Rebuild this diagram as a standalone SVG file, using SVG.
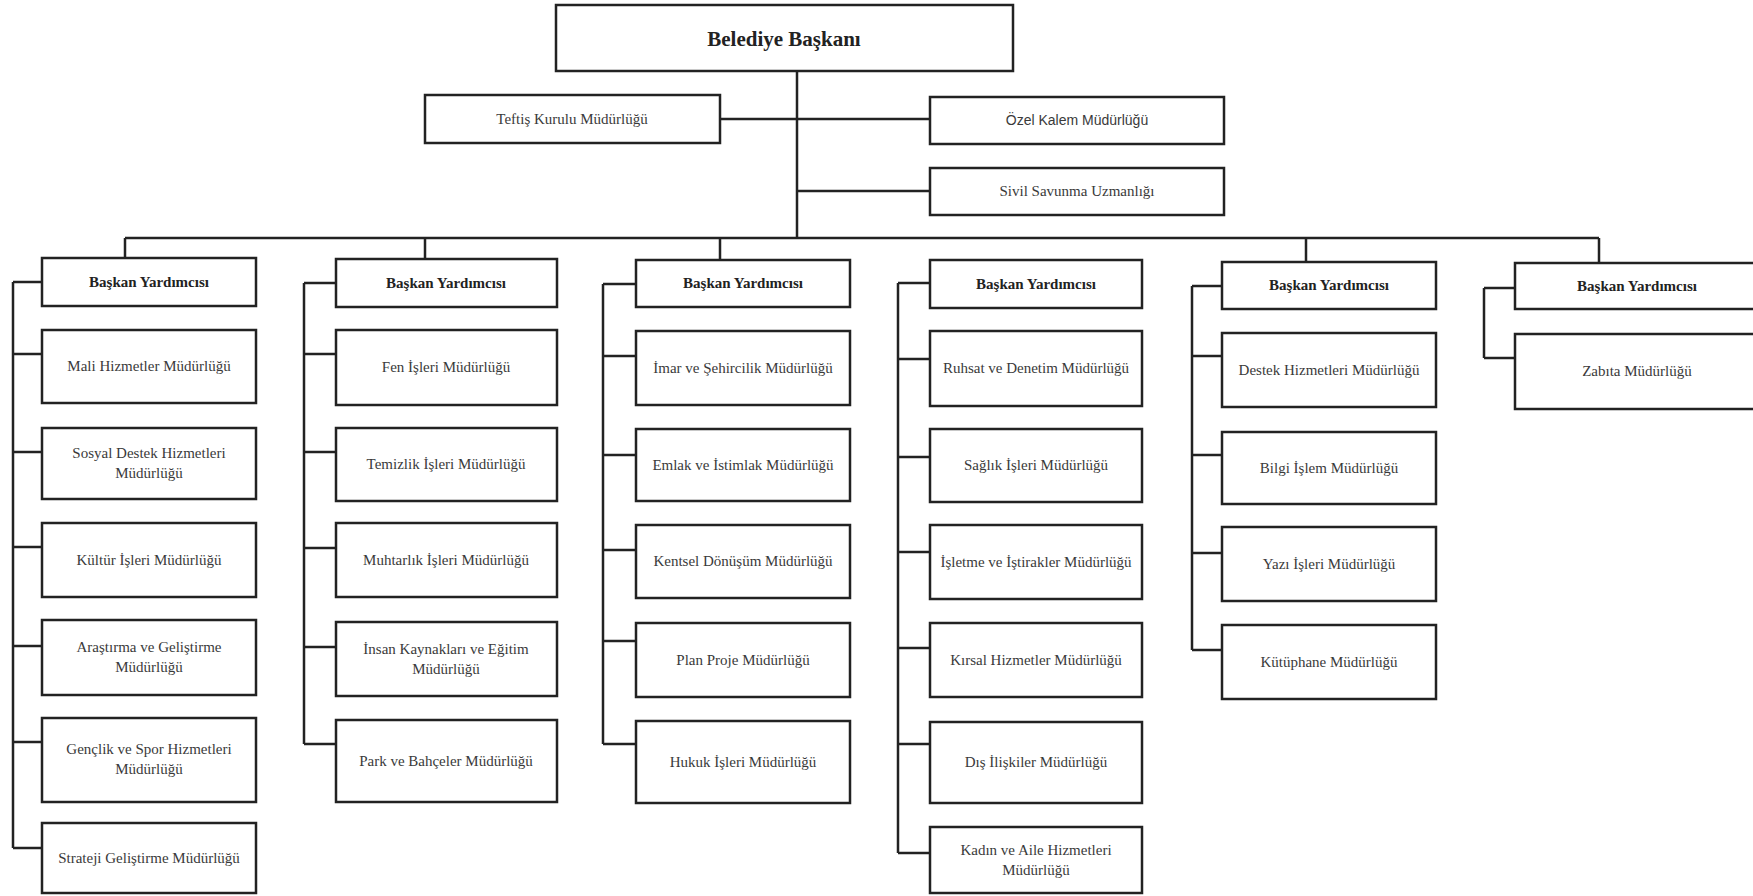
<svg xmlns="http://www.w3.org/2000/svg" width="1753" height="896" viewBox="0 0 1753 896">
<style>
.box{fill:#fff;stroke:#222;stroke-width:2.5}
.t{font-family:"Liberation Serif","Times New Roman",serif;font-size:15px;fill:#3a3a3a;text-anchor:middle;dominant-baseline:central}
.s{font-family:"Liberation Sans",Arial,sans-serif;font-size:14px}
.b{font-weight:bold;fill:#222}
.h{font-size:21px}
.c{fill:none;stroke:#222;stroke-width:2.5}
</style>
<rect width="1753" height="896" fill="#fff"/>
<g id="connectors" class="c">
<path d="M797 71V238M720 119H930M797 191H930M125 238H1599M125 238V258M425 238V259M720 238V260M1306 238V262M1599 238V263"/>
<path d="M13 282V848M13 282H42M13 354H42M13 452H42M13 547H42M13 646H42M13 742H42M13 848H42"/>
<path d="M304 283V744M304 283H336M304 354H336M304 452H336M304 548H336M304 647H336M304 744H336"/>
<path d="M603 284V744M603 284H636M603 356H636M603 455H636M603 550H636M603 641H636M603 744H636"/>
<path d="M898 283V853M898 283H930M898 359H930M898 457H930M898 552H930M898 648H930M898 744H930M898 853H930"/>
<path d="M1192 286V650M1192 286H1222M1192 356H1222M1192 455H1222M1192 553H1222M1192 650H1222"/>
<path d="M1484 288V358M1484 288H1515M1484 358H1515"/>
</g>
<g id="baskan"><rect class="box" x="556" y="5" width="457" height="66"/><text class="t b h" x="784" y="39">Belediye Başkanı</text></g>
<g id="teftis"><rect class="box" x="425" y="95" width="295" height="48"/><text class="t" x="572" y="119">Teftiş Kurulu Müdürlüğü</text></g>
<g id="ozel"><rect class="box" x="930" y="97" width="294" height="47"/><text class="t s" x="1077" y="120">Özel Kalem Müdürlüğü</text></g>
<g id="sivil"><rect class="box" x="930" y="168" width="294" height="47"/><text class="t" x="1077" y="191">Sivil Savunma Uzmanlığı</text></g>

<g id="by1"><rect class="box" x="42" y="258" width="214" height="48"/><text class="t b" x="149" y="282">Başkan Yardımcısı</text></g>
<g id="mali"><rect class="box" x="42" y="330" width="214" height="73"/><text class="t" x="149" y="366">Mali Hizmetler Müdürlüğü</text></g>
<g id="sosyal"><rect class="box" x="42" y="428" width="214" height="71"/><text class="t" x="149" y="453">Sosyal Destek Hizmetleri</text><text class="t" x="149" y="473">Müdürlüğü</text></g>
<g id="kultur"><rect class="box" x="42" y="523" width="214" height="74"/><text class="t" x="149" y="560">Kültür İşleri Müdürlüğü</text></g>
<g id="arastirma"><rect class="box" x="42" y="620" width="214" height="75"/><text class="t" x="149" y="647">Araştırma ve Geliştirme</text><text class="t" x="149" y="667">Müdürlüğü</text></g>
<g id="genclik"><rect class="box" x="42" y="718" width="214" height="84"/><text class="t" x="149" y="749">Gençlik ve Spor Hizmetleri</text><text class="t" x="149" y="769">Müdürlüğü</text></g>
<g id="strateji"><rect class="box" x="42" y="823" width="214" height="70"/><text class="t" x="149" y="858">Strateji Geliştirme Müdürlüğü</text></g>

<g id="by2"><rect class="box" x="336" y="259" width="221" height="48"/><text class="t b" x="446" y="283">Başkan Yardımcısı</text></g>
<g id="fen"><rect class="box" x="336" y="330" width="221" height="75"/><text class="t" x="446" y="367">Fen İşleri Müdürlüğü</text></g>
<g id="temizlik"><rect class="box" x="336" y="428" width="221" height="73"/><text class="t" x="446" y="464">Temizlik İşleri Müdürlüğü</text></g>
<g id="muhtarlik"><rect class="box" x="336" y="523" width="221" height="74"/><text class="t" x="446" y="560">Muhtarlık İşleri Müdürlüğü</text></g>
<g id="insan"><rect class="box" x="336" y="622" width="221" height="74"/><text class="t" x="446" y="649">İnsan Kaynakları ve Eğitim</text><text class="t" x="446" y="669">Müdürlüğü</text></g>
<g id="park"><rect class="box" x="336" y="720" width="221" height="82"/><text class="t" x="446" y="761">Park ve Bahçeler Müdürlüğü</text></g>

<g id="by3"><rect class="box" x="636" y="260" width="214" height="47"/><text class="t b" x="743" y="283">Başkan Yardımcısı</text></g>
<g id="imar"><rect class="box" x="636" y="331" width="214" height="74"/><text class="t" x="743" y="368">İmar ve Şehircilik Müdürlüğü</text></g>
<g id="emlak"><rect class="box" x="636" y="429" width="214" height="72"/><text class="t" x="743" y="465">Emlak ve İstimlak Müdürlüğü</text></g>
<g id="kentsel"><rect class="box" x="636" y="525" width="214" height="73"/><text class="t" x="743" y="561">Kentsel Dönüşüm Müdürlüğü</text></g>
<g id="plan"><rect class="box" x="636" y="623" width="214" height="74"/><text class="t" x="743" y="660">Plan Proje Müdürlüğü</text></g>
<g id="hukuk"><rect class="box" x="636" y="721" width="214" height="82"/><text class="t" x="743" y="762">Hukuk İşleri Müdürlüğü</text></g>

<g id="by4"><rect class="box" x="930" y="260" width="212" height="48"/><text class="t b" x="1036" y="284">Başkan Yardımcısı</text></g>
<g id="ruhsat"><rect class="box" x="930" y="331" width="212" height="75"/><text class="t" x="1036" y="368">Ruhsat ve Denetim Müdürlüğü</text></g>
<g id="saglik"><rect class="box" x="930" y="429" width="212" height="73"/><text class="t" x="1036" y="465">Sağlık İşleri Müdürlüğü</text></g>
<g id="isletme"><rect class="box" x="930" y="525" width="212" height="74"/><text class="t" x="1036" y="562">İşletme ve İştirakler Müdürlüğü</text></g>
<g id="kirsal"><rect class="box" x="930" y="623" width="212" height="74"/><text class="t" x="1036" y="660">Kırsal Hizmetler Müdürlüğü</text></g>
<g id="dis"><rect class="box" x="930" y="722" width="212" height="81"/><text class="t" x="1036" y="762">Dış İlişkiler Müdürlüğü</text></g>
<g id="kadin"><rect class="box" x="930" y="827" width="212" height="66"/><text class="t" x="1036" y="850">Kadın ve Aile Hizmetleri</text><text class="t" x="1036" y="870">Müdürlüğü</text></g>

<g id="by5"><rect class="box" x="1222" y="262" width="214" height="47"/><text class="t b" x="1329" y="285">Başkan Yardımcısı</text></g>
<g id="destek"><rect class="box" x="1222" y="333" width="214" height="74"/><text class="t" x="1329" y="370">Destek Hizmetleri Müdürlüğü</text></g>
<g id="bilgi"><rect class="box" x="1222" y="432" width="214" height="72"/><text class="t" x="1329" y="468">Bilgi İşlem Müdürlüğü</text></g>
<g id="yazi"><rect class="box" x="1222" y="527" width="214" height="74"/><text class="t" x="1329" y="564">Yazı İşleri Müdürlüğü</text></g>
<g id="kutuphane"><rect class="box" x="1222" y="625" width="214" height="74"/><text class="t" x="1329" y="662">Kütüphane Müdürlüğü</text></g>

<g id="by6"><rect class="box" x="1515" y="263" width="250" height="46"/><text class="t b" x="1637" y="286">Başkan Yardımcısı</text></g>
<g id="zabita"><rect class="box" x="1515" y="334" width="250" height="75"/><text class="t" x="1637" y="371">Zabıta Müdürlüğü</text></g>
</svg>
